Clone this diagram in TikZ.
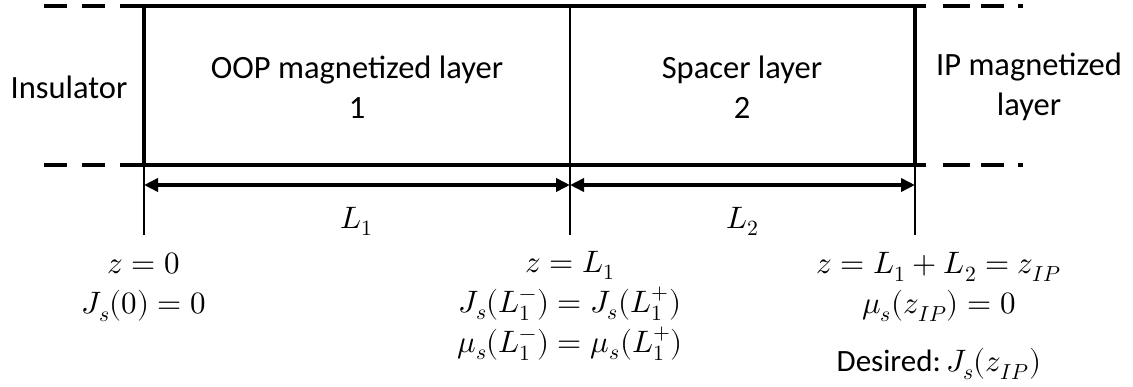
\documentclass[tikz,border=0pt]{standalone}
\usepackage{amsmath}
\usepackage{fontspec}
\usepackage{unicode-math}
\setmainfont{Carlito}
\setmathfont{Latin Modern Math}
\usepackage{tikz}
\usetikzlibrary{arrows.meta}
\tikzset{
  wall/.style     ={line width=4pt},
  thinwall/.style ={line width=2pt},
  leftdash/.style ={line width=4pt, dash pattern=on 23pt off 15pt},
  rightdash/.style={line width=4pt, dash pattern=on 27pt off 11pt on 23pt off 14pt on 5pt off 40pt},
  dim/.style      ={{Triangle[length=14pt,width=13pt]}-{Triangle[length=14pt,width=13pt]}, line width=4pt},
  lbl/.style      ={font=\fontsize{32.5}{40}\selectfont, align=center, inner sep=0pt},
  eq/.style       ={font=\fontsize{31}{40}\selectfont, align=center, inner sep=0pt},
}
\begin{document}
\begin{tikzpicture}[x=1pt,y=-1pt]
\useasboundingbox (0,0) rectangle (1133,386);
\def\yT{6} \def\yB{165} \def\yA{185} \def\yE{235}
% layer walls
\coordinate (tl) at (144,\yT); \coordinate (bl) at (144,\yB); \coordinate (el) at (144,\yE);
\coordinate (tm) at (570,\yT); \coordinate (em) at (570,\yE);
\coordinate (tr) at (915,\yT); \coordinate (br) at (915,\yB); \coordinate (er) at (915,\yE);

% interfaces (top and bottom)
\draw[leftdash] (44,\yT) -- (121,\yT);
\draw[wall] (121,\yT) -- (926,\yT);
\draw[rightdash] (943,\yT) -- (1023,\yT);
\draw[leftdash] (44,\yB) -- (121,\yB);
\draw[wall] (121,\yB) -- (926,\yB);
\draw[rightdash] (943,\yB) -- (1023,\yB);

% verticals
\draw[wall] (tl) -- (bl);
\draw[thinwall] (bl) -- (el);
\draw[thinwall] (tm) -- (em);
\draw[wall] (tr) -- (br);
\draw[thinwall] (br) -- (er);

% layer names
\node[lbl] (insul) at (69,87) {Insulator};
\node[lbl] (oop) at (357,87) {OOP magnetized layer\\1};
\node[lbl] (spacer) at (742,87) {Spacer layer\\2};
\node[lbl] (ip) at (1029,87) {IP magnetized\\layer};

% thicknesses
\coordinate (al) at (144,\yA); \coordinate (am) at (570,\yA); \coordinate (ar) at (915,\yA);
\draw[dim] (al) -- (am) node[midway,below=20pt,eq] (lone) {$L_1$};
\draw[dim] (am) -- (ar) node[midway,below=20pt,eq] (ltwo) {$L_2$};

% boundary conditions
\node[eq] (bcz) at (144,287) {$z=0$\\$J_s(0)=0$};
\node[eq] (bcl) at (570,306) {$z=L_1$\\$J_s(L_1^-)=J_s(L_1^+)$\\$\mu_s(L_1^-)=\mu_s(L_1^+)$};
\node[eq] (bcip) at (939,287) {$z=L_1+L_2=z_{IP}$\\$\mu_s(z_{IP})=0$};
\node[eq] (desired) at (939,364) {Desired:\,$J_s(z_{IP})$};
\end{tikzpicture}
\end{document}
